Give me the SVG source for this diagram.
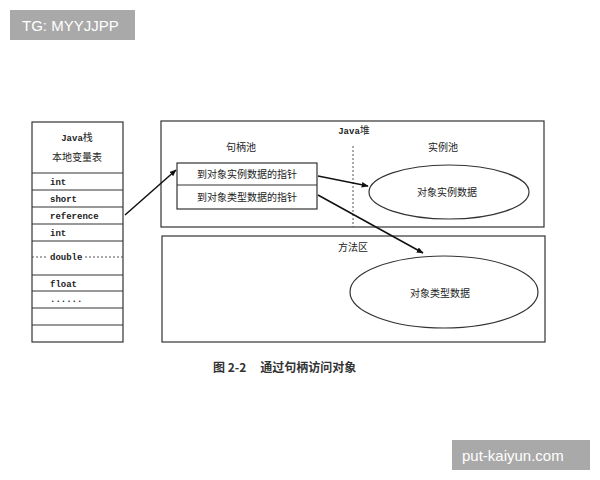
<svg xmlns="http://www.w3.org/2000/svg" width="600" height="480" viewBox="0 0 600 480">
<defs>
<marker id="ah" viewBox="0 0 10 10" refX="9" refY="5" markerWidth="7" markerHeight="7" orient="auto" markerUnits="userSpaceOnUse">
<path d="M0,1 L10,5 L0,9 z" fill="#111"/>
</marker>
</defs>
<style>
.box{fill:none;stroke:#333;stroke-width:1.2}
.ln{stroke:#333;stroke-width:1}
.dash{stroke:#555;stroke-width:1;stroke-dasharray:2,2}
.mono{font-family:"Liberation Mono","DejaVu Sans Mono",monospace;font-size:9px;font-weight:bold;fill:#222}
.cn{font-family:"Noto Sans CJK SC","Noto Sans",sans-serif;font-size:10px;fill:#222;text-anchor:middle}
.conn{stroke:#111;stroke-width:1.5;fill:none;marker-end:url(#ah)}
.wm{fill:#a9a9a9}
.wmt{font-family:"Liberation Sans",Arial,sans-serif;font-size:15px;fill:#fff}
</style>
<rect width="600" height="480" fill="#fff"/>
<g id="watermark1"><rect class="wm" x="10" y="10" width="125" height="30"/><text class="wmt" x="22" y="31">TG: MYYJJPP</text></g>
<g id="watermark2"><rect class="wm" x="452" y="440" width="138" height="30"/><text class="wmt" x="462" y="461">put-kaiyun.com</text></g>
<g id="java-stack">
<rect class="box" x="32" y="122" width="91" height="220"/>
<text class="cn" x="77" y="141"><tspan font-family="Liberation Mono,monospace" font-weight="bold" font-size="9">Java</tspan>栈</text>
<text class="cn" x="77" y="161">本地变量表</text>
<line class="ln" x1="32" y1="173" x2="123" y2="173"/>
<line class="ln" x1="32" y1="190" x2="123" y2="190"/>
<line class="ln" x1="32" y1="207" x2="123" y2="207"/>
<line class="ln" x1="32" y1="224" x2="123" y2="224"/>
<line class="ln" x1="32" y1="241" x2="123" y2="241"/>
<line class="dash" x1="32" y1="257" x2="48" y2="257"/>
<line class="dash" x1="85" y1="257" x2="123" y2="257"/>
<line class="ln" x1="32" y1="275" x2="123" y2="275"/>
<line class="ln" x1="32" y1="291" x2="123" y2="291"/>
<line class="ln" x1="32" y1="308" x2="123" y2="308"/>
<line class="ln" x1="32" y1="325" x2="123" y2="325"/>
<text class="mono" x="50" y="185">int</text>
<text class="mono" x="50" y="202">short</text>
<text class="mono" x="50" y="219">reference</text>
<text class="mono" x="50" y="236">int</text>
<text class="mono" x="50" y="260">double</text>
<text class="mono" x="50" y="287">float</text>
<text class="mono" x="50" y="302">......</text>
</g>
<g id="java-heap">
<rect class="box" x="161" y="121" width="383" height="106"/>
<text class="cn" x="354" y="134"><tspan font-family="Liberation Mono,monospace" font-weight="bold" font-size="9">Java</tspan>堆</text>
<line class="dash" x1="353" y1="146" x2="353" y2="227"/>
<text class="cn" x="241" y="151">句柄池</text>
<text class="cn" x="443" y="151">实例池</text>
</g>
<g id="handle-pool">
<rect class="box" x="177" y="163" width="140" height="46"/>
<line class="ln" x1="177" y1="185" x2="317" y2="185"/>
<text class="cn" x="247" y="178">到对象实例数据的指针</text>
<text class="cn" x="247" y="201">到对象类型数据的指针</text>
</g>
<g id="instance-data">
<ellipse class="box" cx="449" cy="192" rx="80" ry="27"/>
<text class="cn" x="447" y="196">对象实例数据</text>
</g>
<g id="method-area">
<rect class="box" x="162" y="236" width="383" height="106"/>
<text class="cn" x="353" y="251">方法区</text>
</g>
<g id="type-data">
<ellipse class="box" cx="444" cy="292" rx="94" ry="36"/>
<text class="cn" x="440" y="297">对象类型数据</text>
</g>
<g id="connectors">
<line class="conn" x1="125" y1="215" x2="176" y2="170"/>
<line class="conn" x1="318" y1="176" x2="368" y2="186"/>
<line class="conn" x1="318" y1="195" x2="423" y2="253"/>
</g>
<g id="caption">
<text x="213" y="372" font-family="Noto Sans CJK SC,sans-serif" font-size="12" font-weight="bold" fill="#333">图 2-2<tspan dx="14">通过句柄访问对象</tspan></text>
</g>
</svg>
